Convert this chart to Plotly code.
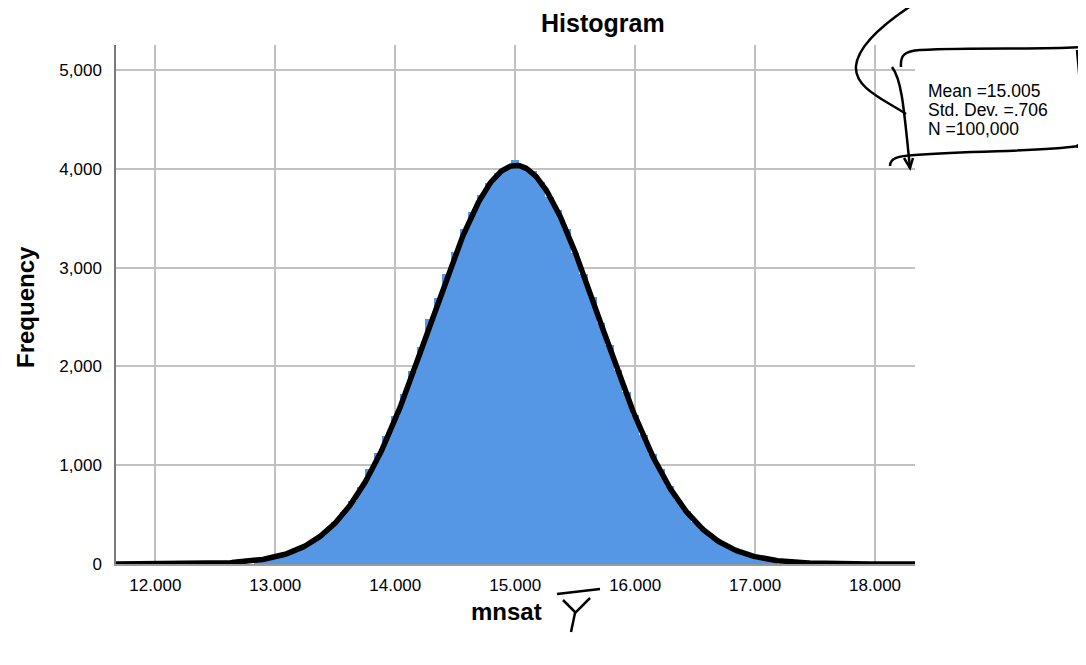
import math
import plotly.graph_objects as go

# ---------------- data ----------------
BIN_WIDTH = 1 / 14
BIN_K = list(range(180, 241))                     # bin centres are k/14
counts = [42, 55, 70, 98, 128, 160, 212, 270, 338, 425,
          530, 640, 780, 960, 1120, 1300, 1500, 1720, 1950, 2200,
          2480, 2690, 2940, 3160, 3390, 3560, 3740, 3860, 3960, 4010,
          4090,
          4030, 3975, 3870, 3720, 3580, 3390, 3150, 2940, 2700, 2440,
          2220, 1960, 1740, 1510, 1310, 1110, 960, 790, 650, 535,
          430, 345, 275, 215, 168, 128, 98, 73, 55, 40]
MEAN = 15.005
SD = 0.706
N = 100000
x_ticks = [12, 13, 14, 15, 16, 17, 18]
x_tick_labels = ["12.000", "13.000", "14.000", "15.000", "16.000", "17.000", "18.000"]
y_ticks = [0, 1000, 2000, 3000, 4000, 5000]
y_tick_labels = ["0", "1,000", "2,000", "3,000", "4,000", "5,000"]
stats_lines = ["Mean =15.005", "Std. Dev. =.706", "N =100,000"]

X_RANGE = [11.672, 18.333]
Y_RANGE = [0, 5255]

bin_centres = [k / 14 for k in BIN_K]

# fitted normal curve
curve_x = [X_RANGE[0] + i * (X_RANGE[1] - X_RANGE[0]) / 600 for i in range(601)]
curve_y = [N * BIN_WIDTH / (SD * math.sqrt(2 * math.pi)) *
           math.exp(-0.5 * ((v - MEAN) / SD) ** 2) for v in curve_x]

FONT = "Liberation Sans, Arial, sans-serif"

fig = go.Figure()
fig.add_trace(go.Bar(x=bin_centres, y=counts, width=BIN_WIDTH,
                     marker=dict(color="#5596e5", line=dict(width=0)),
                     hoverinfo="x+y"))
fig.add_trace(go.Scatter(x=curve_x, y=curve_y, mode="lines",
                         line=dict(color="black", width=5.5), hoverinfo="skip"))

# plot area in (screenshot) pixels; the page body adds an 8px offset
OFF = 8
L, R, T, B = 116, 915, 45, 564
W, H = 1086, 665


def px(x):
    return (x - L) / (R - L)


def py(y):
    return (B - y) / (B - T)


def path(pts_cmds):
    out = []
    for c in pts_cmds:
        if isinstance(c, str):
            out.append(c)
        else:
            out.append(f"{px(c[0]):.5f},{py(c[1]):.5f}")
    return " ".join(out)


annotations = [
    dict(text="<b>Histogram</b>", x=px(603), y=py(23), xref="paper", yref="paper",
         showarrow=False, font=dict(size=25, family=FONT, color="black"),
         xanchor="center", yanchor="middle"),
    dict(text="<b>Frequency</b>", x=px(26), y=py(307), xref="paper", yref="paper",
         showarrow=False, textangle=-90, font=dict(size=24, family=FONT, color="black"),
         xanchor="center", yanchor="middle"),
    dict(text="<b>mnsat</b>", x=px(506), y=py(611), xref="paper", yref="paper",
         showarrow=False, font=dict(size=24, family=FONT, color="black"),
         xanchor="center", yanchor="middle"),
]
for i, line in enumerate(stats_lines):
    annotations.append(dict(text=line, x=px(927), y=py(90.5 + 19 * i), xref="paper", yref="paper",
                            showarrow=False, font=dict(size=17.5, family=FONT, color="black"),
                            xanchor="left", yanchor="middle", borderpad=0))

stroke = dict(color="black", width=2.5)
hand = [
    # big swoosh from the top
    ["M", (920, 0), "C", (885, 22), (858, 45), (856, 66), "C", (854, 88), (885, 100), (906, 114)],
    # left side with arrow
    ["M", (892, 67), "C", (902, 80), (904, 110), (910, 168)],
    ["M", (904, 158), "L", (910, 168), "L", (913, 158)],
    # top side
    ["M", (901, 67), "C", (900, 55), (905, 51), (920, 50), "C", (980, 47), (1040, 50), (1083, 47)],
    # right side
    ["M", (1077, 50), "L", (1086, 148)],
    # bottom side
    ["M", (890, 166), "C", (890, 158), (898, 156), (915, 155), "C", (980, 150), (1040, 152), (1078, 146)],
    # Y-bar next to axis title
    ["M", (557, 594), "L", (600, 589)],
    ["M", (563, 600), "L", (575, 612)],
    ["M", (590, 598), "L", (575, 613), "L", (571, 632)],
]
shapes = [dict(type="path", xref="paper", yref="paper", path=path(p), line=stroke)
          for p in hand]
shapes.append(dict(type="circle", xref="paper", yref="paper",
                   x0=px(1076), x1=px(1080), y0=py(144), y1=py(148),
                   fillcolor="black", line=dict(width=0)))

fig.update_layout(
    width=W, height=H,
    margin=dict(l=L - OFF, r=W - R + OFF, t=T - OFF, b=H - B + OFF, pad=0),
    paper_bgcolor="white", plot_bgcolor="white",
    showlegend=False, bargap=0,
    font=dict(family=FONT, size=18, color="black"),
    annotations=annotations, shapes=shapes,
    xaxis=dict(range=X_RANGE, tickmode="array", tickvals=x_ticks, ticktext=x_tick_labels,
               showgrid=True, gridcolor="#c2c2c2", gridwidth=1.5,
               showline=True, linecolor="#9a9a9a", linewidth=1.5,
               ticks="", ticklabelstandoff=5, zeroline=False,
               tickfont=dict(size=17, family=FONT, color="black")),
    yaxis=dict(range=Y_RANGE, tickmode="array", tickvals=y_ticks, ticktext=y_tick_labels,
               showgrid=True, gridcolor="#c2c2c2", gridwidth=1.5,
               showline=True, linecolor="#7a7a7a", linewidth=1.5,
               ticks="", ticklabelstandoff=9, zeroline=False,
               tickfont=dict(size=17, family=FONT, color="black")),
)

fig.write_html("out.html")
